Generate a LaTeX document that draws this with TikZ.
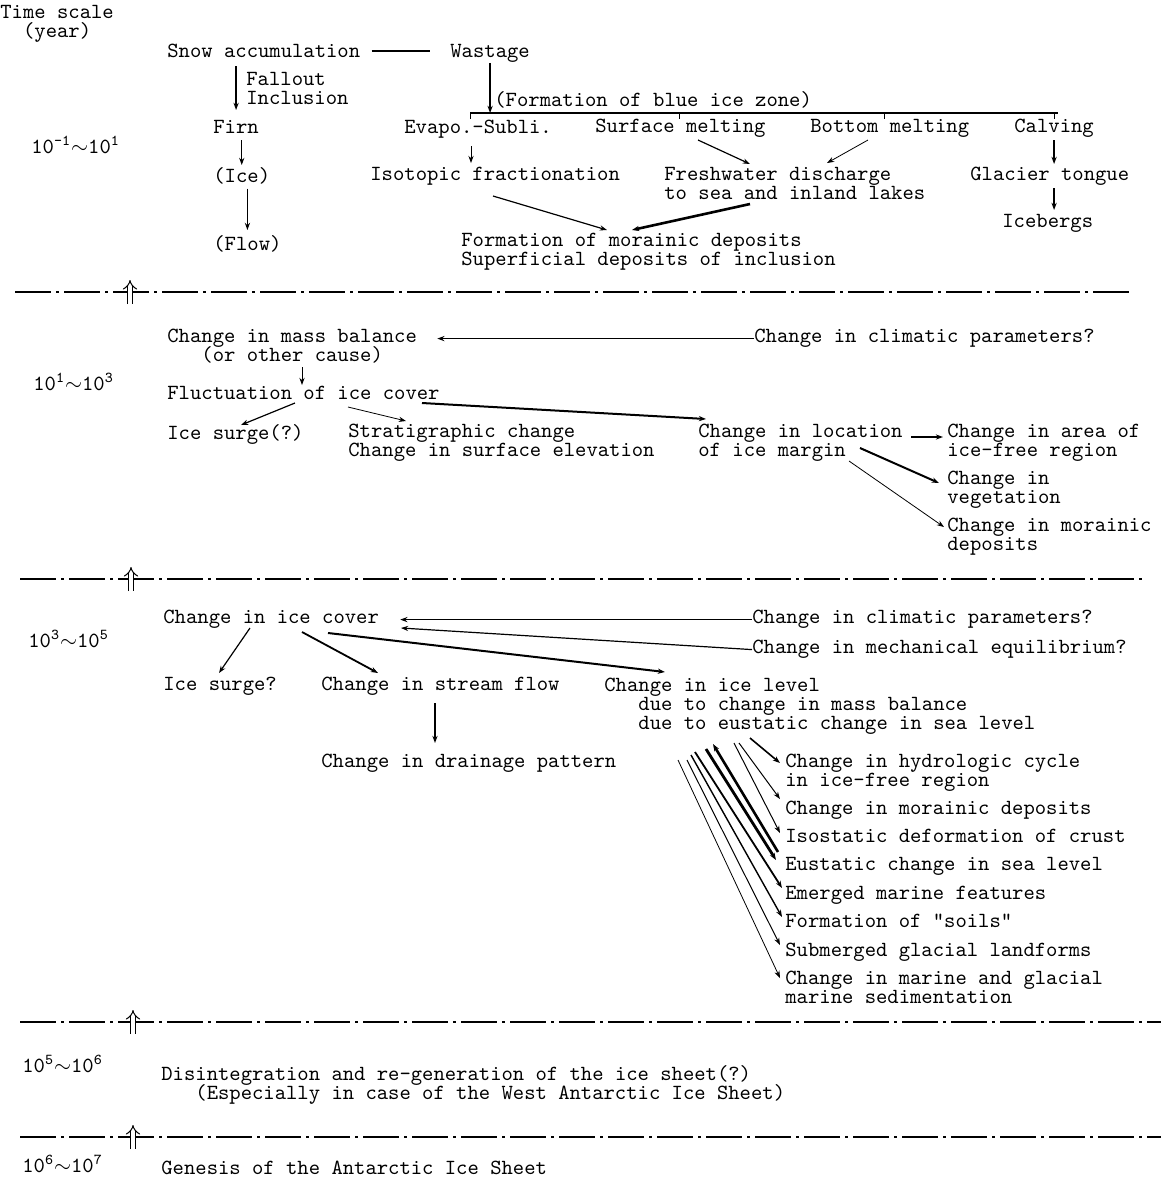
\documentclass[tikz,border=0pt]{standalone}
\usepackage{fontspec}
\usetikzlibrary{arrows.meta}
\setlength{\lineskiplimit}{-20pt}

\begin{document}
\begin{tikzpicture}[x=0.5pt,y=-0.5pt,
    every node/.style={anchor=north west,inner sep=0pt,align=left,
      font=\ttfamily\fontsize{10.8}{9.5}\selectfont},
    >={Stealth[length=3.6pt,width=2.6pt]},
    arr/.style={->,line width=0.6pt},
    thinarr/.style={->,line width=0.4pt},
    thickarr/.style={->,line width=1.3pt},
    sepline/.style={line width=1.2pt,dash pattern=on 18pt off 2.5pt on 1.5pt off 2.5pt},
    uparr/.style={double,double distance=2pt,line width=0.5pt,-{Implies}}]
    \useasboundingbox (0,0) rectangle (1161,1180);

    \node[align=center] (ts) at (0,5) {Time scale\\(year)};
    \node (t1) at (31,136) {10\textsuperscript{-1}$\sim$10\textsuperscript{1}};
    \node (t2) at (33,373) {10\textsuperscript{1}$\sim$10\textsuperscript{3}};
    \node (t3) at (28,630) {10\textsuperscript{3}$\sim$10\textsuperscript{5}};
    \node (t4) at (22,1055) {10\textsuperscript{5}$\sim$10\textsuperscript{6}};
    \node (t5) at (22,1155) {10\textsuperscript{6}$\sim$10\textsuperscript{7}};

    \node (snw) at (167,44) {Snow accumulation};
    \node (wst) at (450,44) {Wastage};
    \node (fal) at (246,72) {Fallout\\Inclusion};
    \node (frn) at (213,120) {Firn};
    \node (ice) at (213,167) {(Ice)};
    \node (flw) at (213,235) {(Flow)};
    \node (blu) at (494,91) {(Formation of blue ice zone)};
    \node (evp) at (404,120) {Evapo.-Subli.};
    \node (sfc) at (595,119) {Surface melting};
    \node (bot) at (810,119) {Bottom melting};
    \node (clv) at (1014,119) {Calving};
    \node (iso) at (370,167) {Isotopic fractionation};
    \node (fsh) at (664,167) {Freshwater discharge\\to sea and inland lakes};
    \node (gla) at (970,167) {Glacier tongue};
    \node (brg) at (1002,214) {Icebergs};
    \node (frm) at (461,233) {Formation of morainic deposits\\Superficial deposits of inclusion};

    \node (mb) at (167,329) {Change in mass balance\\\ \ \ (or other cause)};
    \node (cl1) at (754,329) {Change in climatic parameters?};
    \node (flu) at (167,386) {Fluctuation of ice cover};
    \node (sg1) at (167,424) {Ice surge(?)};
    \node (str) at (348,424) {Stratigraphic change\\Change in surface elevation};
    \node (loc) at (698,424) {Change in location\\of ice margin};
    \node (are) at (947,424) {Change in area of\\ice-free region};
    \node (veg) at (947,471) {Change in\\vegetation};
    \node (mo2) at (947,518) {Change in morainic\\deposits};

    \node (cov) at (163,610) {Change in ice cover};
    \node (cl2) at (752,610) {Change in climatic parameters?};
    \node (mec) at (752,640) {Change in mechanical equilibrium?};
    \node (sg2) at (163,677) {Ice surge?};
    \node (stm) at (321,677) {Change in stream flow};
    \node (lvl) at (604,678) {Change in ice level\\\ \ \ due to change in mass balance\\\ \ \ due to eustatic change in sea level};
    \node (drn) at (321,754) {Change in drainage pattern};
    \node (hyd) at (785,754) {Change in hydrologic cycle\\in ice-free region};
    \node (mo3) at (785,801) {Change in morainic deposits};
    \node (ist) at (785,829) {Isostatic deformation of crust};
    \node (eus) at (785,857) {Eustatic change in sea level};
    \node (emg) at (785,886) {Emerged marine features};
    \node (sol) at (785,914) {Formation of "soils"};
    \node (sub) at (785,943) {Submerged glacial landforms};
    \node (mar) at (785,971) {Change in marine and glacial\\marine sedimentation};

    \node (dis) at (161,1065) {Disintegration and re-generation of the ice sheet(?)\\\ \ \ (Especially in case of the West Antarctic Ice Sheet)};
    \node (gen) at (161,1161) {Genesis of the Antarctic Ice Sheet};

    \draw[line width=0.9pt,shorten <=5.5pt,shorten >=10pt] (snw.east) -- (snw.east -| wst.west);
    \draw[arr,shorten <=4pt,shorten >=5pt] (frn.north |- snw.south) -- (frn.north);
    \draw[arr,shorten <=3pt,shorten >=1pt] (ice.north |- frn.south) -- (ice.north);
    \draw[arr,shorten <=2pt,shorten >=2.5pt] (flw.north |- ice.south) -- (flw.north);
    \coordinate (bl) at (470,113);
    \coordinate (br) at (1058,113);
    \draw[line width=0.6pt] (bl) -- (br);
    \foreach \x in {470,679,884,1054}
      \draw[line width=0.5pt] (\x,113) -- (\x,119);
    \draw[arr] (wst.south) -- (wst.south |- bl);
    \draw[thinarr] ([shift={(67,26)}]evp.north west) -- ([shift={(101,-4)}]iso.north west);
    \draw[arr] ([shift={(103,21)}]sfc.north west) -- ([shift={(86,-3)}]fsh.north west);
    \draw[thinarr] ([shift={(58,21)}]bot.north west) -- ([shift={(163,-4)}]fsh.north west);
    \draw[arr,shorten <=1pt,shorten >=1.5pt] (clv.south) -- (clv.south |- gla.north);
    \draw[arr,shorten <=1pt,shorten >=2pt] (gla.south -| clv.south) -- (brg.north -| clv.south);
    \draw[arr] ([shift={(123,29)}]iso.north west) -- ([shift={(146,-3)}]frm.north west);
    \draw[thickarr] ([shift={(86,37)}]fsh.north west) -- ([shift={(171,-3)}]frm.north west);

    \draw[arr,shorten >=10pt] (cl1.west) -- (cl1.west -| mb.east);
    \draw[thinarr] ([shift={(135,38)}]mb.north west) -- ([shift={(135,-1)}]flu.north west);
    \draw[arr] ([shift={(128,17)}]flu.north west) -- ([shift={(74,1)}]sg1.north west);
    \draw[thinarr] ([shift={(181,21)}]flu.north west) -- ([shift={(58,-3)}]str.north west);
    \draw[line width=1pt,->] ([shift={(255,17)}]flu.north west) -- ([shift={(8,-5)}]loc.north west);
    \draw[arr] ([shift={(213,13)}]loc.north west) -- ([shift={(-4,13)}]are.north west);
    \draw[line width=1pt,->] ([shift={(162,24)}]loc.north west) -- ([shift={(-8,12)}]veg.north west);
    \draw[thinarr] ([shift={(151,37)}]loc.north west) -- ([shift={(-3,9)}]mo2.north west);

    \draw[arr,shorten >=10.5pt] (cl2.west) -- (cl2.west -| cov.east);
    \draw[arr] (mec.west) -- ([shift={(238,18)}]cov.north west);
    \draw[arr] ([shift={(87,18)}]cov.north west) -- ([shift={(56,-4)}]sg2.north west);
    \draw[line width=0.9pt,->] ([shift={(139,22)}]cov.north west) -- ([shift={(57,-4)}]stm.north west);
    \draw[line width=1pt,->] ([shift={(165,23)}]cov.north west) -- ([shift={(61,-6)}]lvl.north west);
    \draw[arr] ([shift={(114,26)}]stm.north west) -- ([shift={(114,-11)}]drn.north west);
    \foreach \sx/\sy/\t/\ex/\ey/\w in {146/60/hyd/-5/9/0.8pt, 135/65/mo3/-5/-2/0.5pt,
        130/65/ist/-5/4/0.5pt, 102/71/eus/-9/3/1.4pt, 91/74/emg/-3/2/0.9pt,
        87/77/sol/-3/3/0.7pt, 83/82/sub/-5/2/0.5pt, 74/82/mar/-5/7/0.4pt}
      \draw[->,line width=\w] ([shift={(\sx,\sy)}]lvl.north west) -- ([shift={(\ex,\ey)}]\t.north west);
    \draw[thickarr] ([shift={(-7,-5)}]eus.north west) -- ([shift={(109,66)}]lvl.north west);

    \foreach \y/\a/\b/\u in {292/15/1133/130, 579/20/1145/131, 1022/20/1161/133, 1137/20/1161/133}{
      \draw[sepline] (\a,\y) -- (\b,\y);
      \draw[uparr] (\u,\y+12) -- (\u,\y-12);
    }
\end{tikzpicture}
\end{document}
